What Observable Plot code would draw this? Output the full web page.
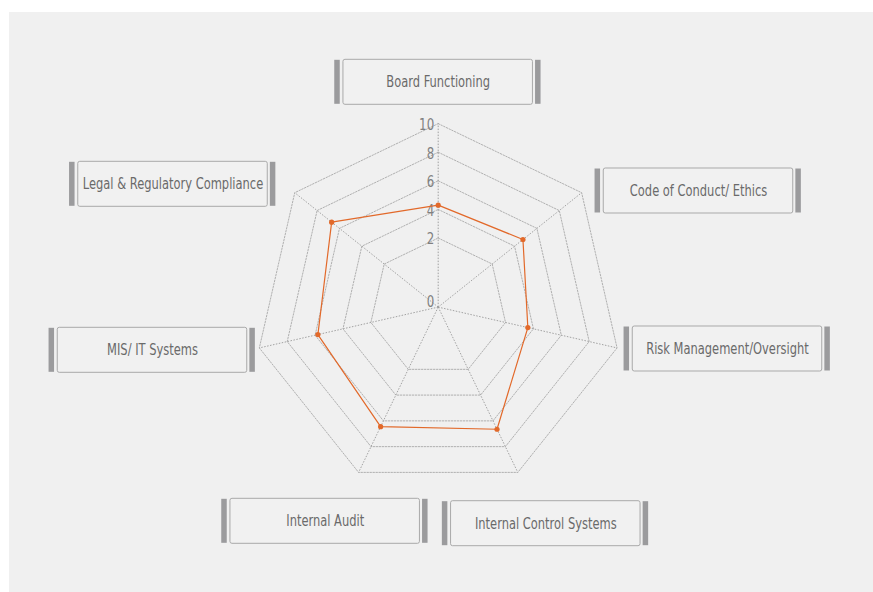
<!DOCTYPE html>
<html>
<head>
<meta charset="utf-8">
<script src="https://cdn.jsdelivr.net/npm/d3@7"></script>
<script src="https://cdn.jsdelivr.net/npm/@observablehq/plot@0.6"></script>
<style>
  html, body { margin: 0; padding: 0; background: #ffffff; }
  #panel { position: absolute; left: 9px; top: 12px; width: 864px; height: 580px; background: #f0f0f0; }
  #chart { position: absolute; left: 0; top: 0; }
</style>
</head>
<body>
<div id="panel"></div>
<div id="chart"></div>
<script>
// ---- data ----
const categories = [
  "Board Functioning",
  "Code of Conduct/ Ethics",
  "Risk Management/Oversight",
  "Internal Control Systems",
  "Internal Audit",
  "MIS/ IT Systems",
  "Legal & Regulatory Compliance"
];
const scores = [4.3, 4.75, 3.6, 6.65, 6.45, 5.8, 6.7];
const gridLevels = [2, 4, 6, 8, 10];
const tickValues = [2, 4, 6, 8, 10];
const centerTick = "0";

// ---- layout ----
const W = 873, H = 592;
const CX = 437.7, CY = 306.6;   // chart centre in px
const PX = 14.3;                // px per unit
const R0 = 2.83;                // radial offset of the centre (units)
const BOX_W = 189.5, BOX_H = 45;
const labelOffsets = [[0, -224.8], [260.3, -116.1], [289.3, 41.9], [107.6, 216.6], [-113, 214.2], [-285.7, 43.2], [-265.2, -122.8]];

const n = categories.length;
const ang = i => i * 2 * Math.PI / n;
const rad = v => v + R0;
const px = p => p / PX;
const pos = (i, v) => ({x: rad(v) * Math.sin(ang(i)), y: rad(v) * Math.cos(ang(i))});

const rings = [];
for (const lv of gridLevels) {
  for (let i = 0; i <= n; i++) rings.push({level: lv, ...pos(i % n, lv)});
}
const spokes = categories.map((c, i) => ({x1: 0, y1: 0, x2: pos(i, 10).x, y2: pos(i, 10).y}));
const series = [];
for (let i = 0; i <= n; i++) series.push({cat: categories[i % n], ...pos(i % n, scores[i % n])});
const points = categories.map((c, i) => ({cat: c, value: scores[i], ...pos(i, scores[i])}));
const ticks = tickValues.map(v => ({label: String(v), x: 0, y: rad(v)}));

const boxes = categories.map((c, i) => {
  const cx = px(labelOffsets[i][0]), cy = -px(labelOffsets[i][1]);
  return {label: c, cx, cy,
    x1: cx - px(BOX_W / 2), x2: cx + px(BOX_W / 2),
    y1: cy - px(BOX_H / 2), y2: cy + px(BOX_H / 2)};
});
const bars = boxes.flatMap(b => [
  {x1: b.x1 - px(8.7), x2: b.x1 - px(3.2), y1: b.y1 + px(0.5), y2: b.y2 - px(0.5)},
  {x1: b.x2 + px(2.6), x2: b.x2 + px(8.1), y1: b.y1 + px(0.5), y2: b.y2 - px(0.5)}
]);

const font = "'Liberation Sans Narrow', 'DejaVu Sans Condensed', 'Roboto Condensed', 'Liberation Sans', sans-serif";
const orange = "#e2692a";

const chart = Plot.plot({
  width: W,
  height: H,
  margin: 0,
  x: {domain: [-CX / PX, (W - CX) / PX], axis: null},
  y: {domain: [-(H - CY) / PX, CY / PX], axis: null},
  style: {background: "transparent", fontFamily: font},
  marks: [
    Plot.line(rings, {x: "x", y: "y", z: "level", stroke: "#a8a8a8", strokeWidth: 0.9, strokeDasharray: "1.5,1.5"}),
    Plot.link(spokes, {x1: "x1", y1: "y1", x2: "x2", y2: "y2", stroke: "#999", strokeWidth: 0.9, strokeDasharray: "1.5,1.5"}),
    Plot.text(ticks, {x: "x", y: "y", text: "label", textAnchor: "end", dx: -4, dy: 1.5, fontSize: 15.5, fill: "#808080", className: "squeeze"}),
    Plot.text([centerTick], {x: () => 0, y: () => 0, text: d => d, textAnchor: "end", dx: -4, dy: -5.5, fontSize: 15.5, fill: "#808080", className: "squeeze"}),
    Plot.line(series, {x: "x", y: "y", stroke: orange, strokeWidth: 1.2}),
    Plot.dot(points, {x: "x", y: "y", r: 2.6, fill: orange, stroke: "none"}),
    Plot.rect(bars, {x1: "x1", x2: "x2", y1: "y1", y2: "y2", fill: "#9b9b9d"}),
    Plot.rect(boxes, {x1: "x1", x2: "x2", y1: "y1", y2: "y2", fill: "#f1f1f1", stroke: "#a9a9a9", strokeWidth: 1, rx: 2}),
    Plot.text(boxes, {x: "cx", y: "cy", text: "label", fontSize: 15, fill: "#6a6a6a", className: "squeeze"})
  ]
});
document.getElementById("chart").appendChild(chart);
// condensed look: compress each text horizontally
chart.querySelectorAll("g.squeeze text").forEach(t => {
  const w = t.getComputedTextLength();
  t.setAttribute("textLength", (w * 0.85).toFixed(1));
  t.setAttribute("lengthAdjust", "spacingAndGlyphs");
});
</script>
</body>
</html>
